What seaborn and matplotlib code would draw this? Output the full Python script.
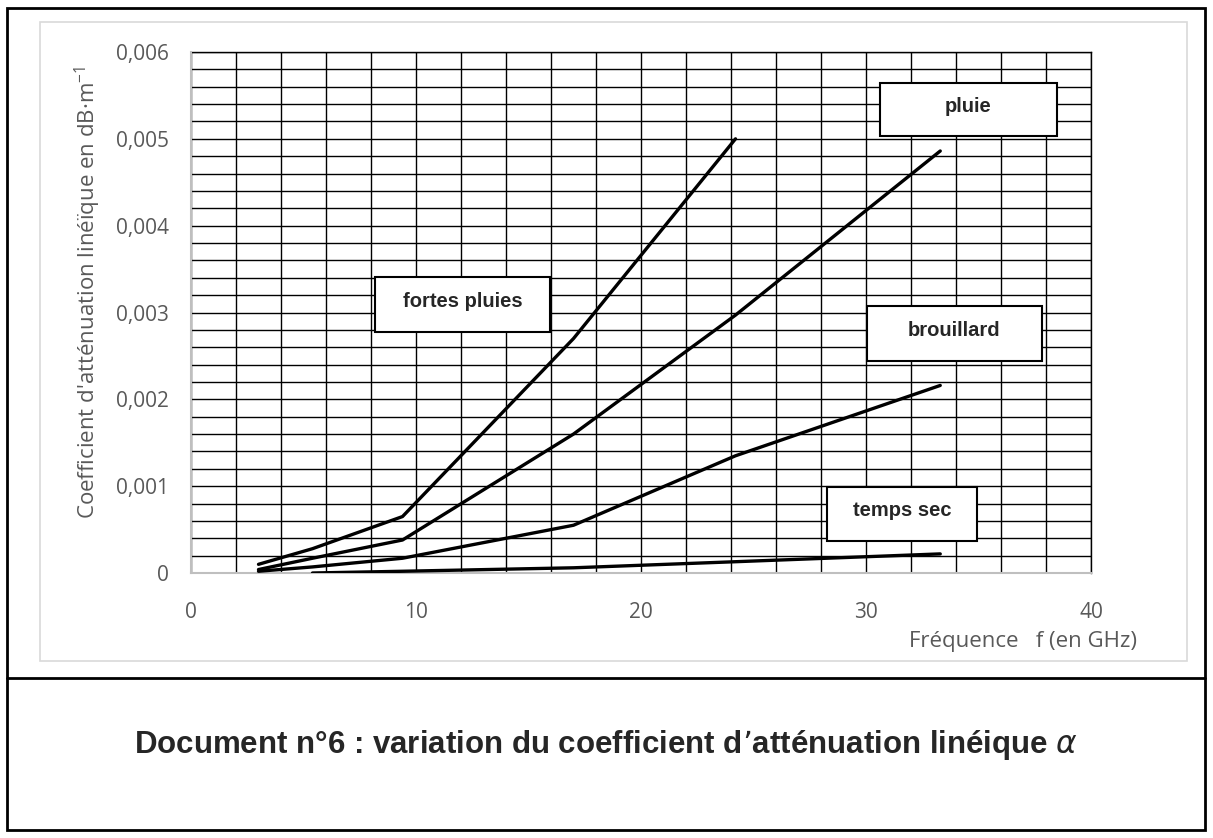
import numpy as np
import pandas as pd
import seaborn as sns
import matplotlib.pyplot as plt
from matplotlib.patches import Rectangle
from matplotlib.ticker import MultipleLocator, FuncFormatter

# frequencies (GHz)
freq = [3, 5.4, 9.4, 17, 24.2, 33.3]

# attenuation coefficient (dB/m) for each weather condition
fortes_pluies = [0.0001, 0.00028, 0.00065, 0.0027, 0.005, np.nan]
pluie = [0.00004, 0.00017, 0.00038, 0.0016, 0.00297, 0.00486]
brouillard = [0.00002, 0.00007, 0.00017, 0.00055, 0.00135, 0.00216]
temps_sec = [np.nan, 0.0, 0.00002, 0.00006, 0.00013, 0.00022]

series_names = ["fortes pluies", "pluie", "brouillard", "temps sec"]
series_values = [fortes_pluies, pluie, brouillard, temps_sec]

rows = []
for name, vals in zip(series_names, series_values):
    for f, v in zip(freq, vals):
        rows.append({"freq": f, "alpha": v, "meteo": name})
df = pd.DataFrame(rows).dropna()

sns.set_style("white")
plt.rcParams['font.family'] = ['Open Sans', 'DejaVu Sans']

W, H = 1213, 838
fig = plt.figure(figsize=(W / 100, H / 100), dpi=100)

# frames around the figure (pixel coords converted to figure fraction)
def px_rect(x0, y0, x1, y1, **kw):
    fig.patches.append(Rectangle((x0 / W, 1 - y1 / H), (x1 - x0) / W, (y1 - y0) / H,
                                 transform=fig.transFigure, fill=False, **kw))

px_rect(7, 8, 1205, 830, edgecolor='black', linewidth=2)
px_rect(40, 22, 1187, 661, edgecolor='#d9d9d9', linewidth=1.2)
fig.add_artist(plt.Line2D([7 / W, 1205 / W], [1 - 678 / H, 1 - 678 / H],
                          transform=fig.transFigure, color='black', linewidth=2))

ax = fig.add_axes([191 / W, 1 - 573 / H, 900 / W, 521 / H])

for name in series_names:
    sns.lineplot(data=df[df.meteo == name], x="freq", y="alpha", color="black",
                 linewidth=2.4, sort=False, ax=ax, zorder=3)

ax.set_xlim(0, 40)
ax.set_ylim(0, 0.006)
ax.xaxis.set_major_locator(MultipleLocator(10))
ax.xaxis.set_minor_locator(MultipleLocator(2))
ax.yaxis.set_major_locator(MultipleLocator(0.001))
ax.yaxis.set_minor_locator(MultipleLocator(0.0002))
ax.yaxis.set_major_formatter(FuncFormatter(
    lambda v, p: "0" if abs(v) < 1e-12 else f"{v:.3f}".replace('.', ',')))
ax.set_axisbelow(True)
ax.grid(which='both', color='black', linewidth=1)
ax.tick_params(which='both', length=0, labelsize=15, colors='#595959')
ax.tick_params(axis='y', pad=16)
ax.tick_params(axis='x', pad=21)
ax.set_xlabel("")
ax.set_ylabel("")
for s in ['left', 'bottom']:
    ax.spines[s].set_color('#bfbfbf')
    ax.spines[s].set_linewidth(1.5)
    ax.spines[s].set_zorder(2.6)
for s in ['top', 'right']:
    ax.spines[s].set_color('black')
    ax.spines[s].set_linewidth(1)

# label boxes
boxes = [("fortes pluies", 375, 277, 550, 332),
         ("pluie", 880, 83, 1057, 136),
         ("brouillard", 867, 306, 1042, 361),
         ("temps sec", 827, 487, 977, 541)]
for txt, x0, y0, x1, y1 in boxes:
    fig.patches.append(Rectangle((x0 / W, 1 - y1 / H), (x1 - x0) / W, (y1 - y0) / H,
                                 transform=fig.transFigure, facecolor='white',
                                 edgecolor='black', linewidth=1.5, zorder=5))
    fig.text((x0 + x1) / 2 / W, 1 - ((y0 + y1) / 2 - 3) / H, txt, ha='center', va='center',
             fontsize=14.5, fontweight='bold', family=['Liberation Sans'], zorder=6)

fig.text(88 / W, 1 - 292 / H, "Coefficient d'atténuation linéïque en dB·m$^{\\mathregular{-1}}$",
         rotation=90, ha='center', va='center', fontsize=16, color='#595959')
fig.text(1137 / W, 1 - 641 / H, "Fréquence   f (en GHz)", ha='right', va='center',
         fontsize=16, color='#595959')

fig.text(606 / W, 1 - 745 / H,
         "Document n°6 : variation du coefficient d’atténuation linéique $\\alpha$",
         ha='center', va='center', fontsize=22.5, fontweight='bold',
         family=['Liberation Sans', 'DejaVu Sans'])

fig.savefig("out.png", dpi=100)
